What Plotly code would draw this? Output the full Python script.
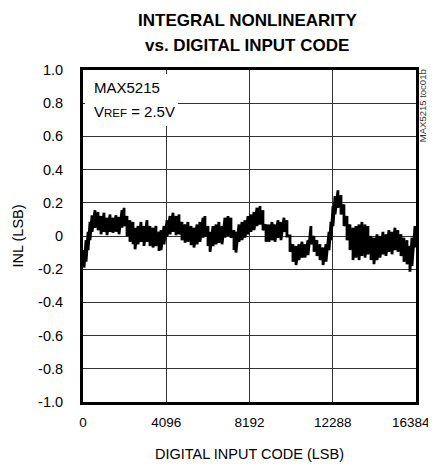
import plotly.graph_objects as go

# Digital input codes sampled along the trace (LSB)
codes = [50, 150, 250, 345, 445, 590, 740, 885, 1035, 1180, 1330, 1475, 1625, 1770, 1920, 2020,
         2165, 2310, 2460, 2560, 2705, 2855, 3000, 3150, 3295, 3445, 3590, 3740, 3840, 3985,
         4135, 4280, 4430, 4575, 4725, 4870, 5020, 5165, 5315, 5460, 5610, 5755, 5905, 6000,
         6150, 6250, 6395, 6545, 6690, 6840, 6985, 7135, 7280, 7430, 7525, 7675, 7825, 7970,
         8120, 8265, 8415, 8560, 8710, 8855, 9005, 9150, 9300, 9445, 9595, 9740, 9890, 10035,
         10185, 10330, 10480, 10625, 10775, 10920, 11070, 11215, 11365, 11510, 11660, 11810,
         11955, 12105, 12200, 12300, 12400, 12545, 12695, 12840, 12990, 13135, 13285, 13430,
         13580, 13725, 13875, 14020, 14170, 14315, 14465, 14610, 14760, 14905, 15055, 15200,
         15350, 15495, 15645, 15790, 15940, 16085, 16185, 16335]

# Upper edge of the noisy INL band (LSB)
inl_upper = [-0.085, -0.025, 0.025, 0.085, 0.125, 0.155, 0.145, 0.12, 0.14, 0.11, 0.13, 0.11,
             0.125, 0.115, 0.155, 0.17, 0.12, 0.095, 0.085, 0.05, 0.06, 0.085, 0.06, 0.095,
             0.06, 0.05, 0.06, 0.025, 0.035, 0.06, 0.095, 0.12, 0.14, 0.12, 0.13, 0.085, 0.07,
             0.085, 0.06, 0.05, 0.07, 0.085, 0.11, 0.12, 0.06, 0.025, 0.06, 0.07, 0.085, 0.06,
             0.11, 0.12, 0.11, 0.035, 0.025, 0.07, 0.085, 0.095, 0.12, 0.13, 0.145, 0.17, 0.18,
             0.155, 0.07, 0.07, 0.085, 0.07, 0.095, 0.085, 0.11, 0.095, 0.0, -0.05, -0.06,
             -0.05, -0.035, -0.05, -0.025, 0.06, 0.0, -0.025, -0.05, -0.07, -0.05, 0.025, 0.085,
             0.18, 0.24, 0.275, 0.245, 0.19, 0.12, 0.07, 0.05, 0.06, 0.07, 0.085, 0.07, 0.06,
             0.0, -0.01, 0.01, 0.0, 0.025, 0.01, 0.035, 0.025, 0.05, 0.035, 0.01, -0.01, -0.025,
             -0.06, -0.01, 0.06]

# Lower edge of the noisy INL band (LSB)
inl_lower = [-0.19, -0.155, -0.085, -0.025, 0.025, 0.05, 0.035, 0.01, 0.025, 0.005, 0.025, 0.02,
             0.025, 0.01, 0.05, 0.06, 0.0, -0.035, -0.05, -0.08, -0.05, -0.035, -0.06, -0.035,
             -0.06, -0.07, -0.06, -0.09, -0.085, -0.05, 0.0, 0.01, 0.025, 0.005, 0.01, -0.025,
             -0.04, -0.035, -0.055, -0.07, -0.05, -0.035, -0.01, 0.0, -0.06, -0.095, -0.06,
             -0.05, -0.04, -0.05, -0.01, 0.0, -0.01, -0.085, -0.1, -0.035, -0.025, -0.01, 0.01,
             0.025, 0.035, 0.06, 0.07, 0.035, -0.035, -0.035, -0.025, -0.035, -0.01, -0.025,
             0.025, 0.0, -0.095, -0.155, -0.175, -0.145, -0.13, -0.13, -0.115, -0.05, -0.095,
             -0.12, -0.145, -0.175, -0.155, -0.085, -0.025, 0.06, 0.13, 0.17, 0.13, 0.06,
             -0.025, -0.085, -0.145, -0.13, -0.145, -0.12, -0.13, -0.11, -0.145, -0.17, -0.145,
             -0.13, -0.11, -0.12, -0.095, -0.11, -0.085, -0.095, -0.12, -0.155, -0.17, -0.215,
             -0.18, -0.07]

x_ticks = [0, 4096, 8192, 12288, 16384]
x_tick_labels = ["0", "4096", "8192", "12288", "16384"]
y_ticks = [1.0, 0.8, 0.6, 0.4, 0.2, 0.0, -0.2, -0.4, -0.6, -0.8, -1.0]
y_tick_labels = ["1.0", "0.8", "0.6", "0.4", "0.2", "0", "-0.2", "-0.4", "-0.6", "-0.8", "-1.0"]

# interleave the band edges into one zig-zag trace
xs, ys = [], []
for c, u, l in zip(codes, inl_upper, inl_lower):
    xs += [c, c]
    ys += [u, l]

FONT = "Liberation Sans, Arial, Helvetica, sans-serif"

fig = go.Figure()
fig.add_trace(go.Scatter(x=xs, y=ys, mode="lines",
                         line=dict(color="black", width=2.8), showlegend=False,
                         hoverinfo="skip"))

# the page body adds an 8px margin, so the figure is sized 8px smaller per side
fig.update_layout(
    width=428, height=456,
    margin=dict(l=75, r=20, t=62, b=62, autoexpand=False),
    paper_bgcolor="white", plot_bgcolor="white",
    font=dict(family=FONT, size=14, color="black"),
    showlegend=False,
)
# the last x label is drawn separately, nudged left to stay inside the page as in the original
fig.update_xaxes(range=[0, 16384], tickvals=x_ticks,
                 ticktext=x_tick_labels[:-1] + [""],
                 showgrid=True, gridcolor="#333", gridwidth=1, zeroline=False,
                 showline=True, linecolor="black", linewidth=3, mirror=True,
                 ticks="", ticklabelstandoff=6, ticklabeloverflow="allow", automargin=False,
                 tickfont=dict(size=13.5),
                 title=dict(text="DIGITAL INPUT CODE (LSB)", font=dict(size=14.5), standoff=20))
fig.add_annotation(x=x_ticks[-1], xref="x", y=-0.062, yref="paper", xshift=-5,
                   xanchor="center", yanchor="middle", showarrow=False,
                   text=x_tick_labels[-1], font=dict(family=FONT, size=13.5, color="black"))
fig.update_yaxes(range=[-1, 1], tickvals=y_ticks, ticktext=y_tick_labels,
                 showgrid=True, gridcolor="#333", gridwidth=1, zeroline=False,
                 showline=True, linecolor="black", linewidth=3, mirror=True,
                 ticks="", ticklabelstandoff=14, ticklabeloverflow="allow", automargin=False,
                 tickfont=dict(size=14.5),
                 title=dict(text="INL (LSB)", font=dict(size=14.5), standoff=12))

# white box behind the label text
fig.add_shape(type="rect", xref="paper", yref="paper",
              x0=0.006, x1=0.285, y0=0.831, y1=0.988,
              fillcolor="white", line=dict(width=0), layer="above")

fig.add_annotation(xref="paper", yref="paper", x=0.027, y=0.9458, xanchor="left", yanchor="middle",
                   align="left", showarrow=False, text="MAX5215",
                   font=dict(family=FONT, size=15, color="black"))
fig.add_annotation(xref="paper", yref="paper", x=0.027, y=0.8765, xanchor="left", yanchor="middle",
                   align="left", showarrow=False,
                   text="V<span style='font-size:11.5px'>REF</span> = 2.5V",
                   font=dict(family=FONT, size=15, color="black"))

fig.add_annotation(xref="paper", yref="paper", x=0.4925, y=1.1506, xanchor="center", yanchor="middle",
                   showarrow=False, text="<b>INTEGRAL NONLINEARITY</b>",
                   font=dict(family=FONT, size=17, color="black"))
fig.add_annotation(xref="paper", yref="paper", x=0.4925, y=1.0753, xanchor="center", yanchor="middle",
                   showarrow=False, text="<b>vs. DIGITAL INPUT CODE</b>",
                   font=dict(family=FONT, size=17, color="black"))

fig.add_annotation(xref="paper", yref="paper", x=1.022, y=0.892, xanchor="center", yanchor="middle",
                   showarrow=False, textangle=-90, text="MAX5215 toc01b",
                   font=dict(family=FONT, size=9.5, color="#333"))

fig.write_html("out.html")
